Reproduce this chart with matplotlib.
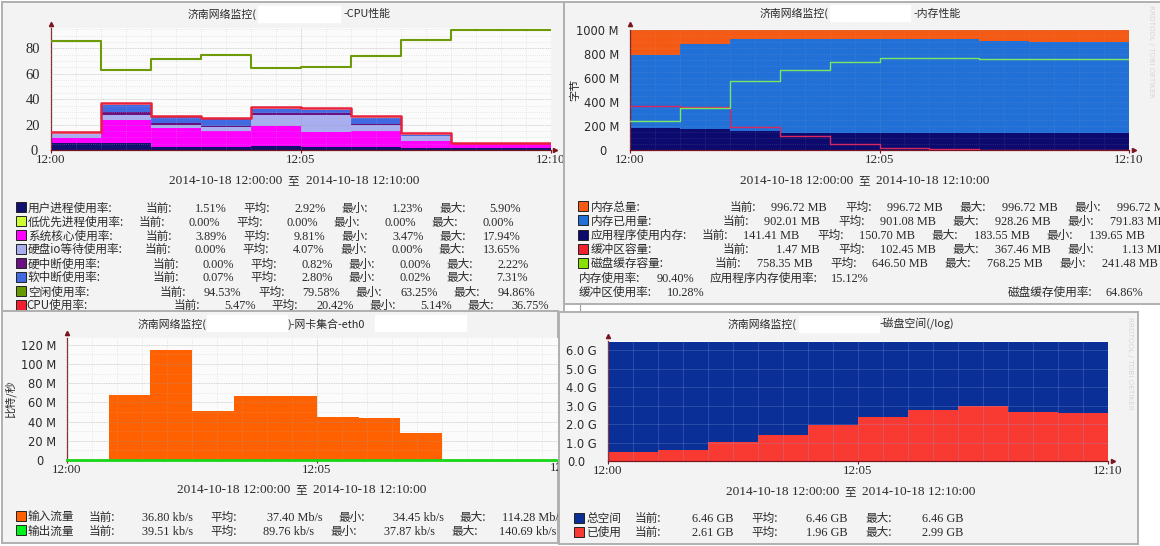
import numpy as np
import matplotlib
matplotlib.use("Agg")
import matplotlib.pyplot as plt
from matplotlib.patches import Rectangle
from matplotlib.lines import Line2D
from matplotlib.transforms import ScaledTranslation

W, H = 1160, 546
CJK = ['Noto Sans CJK SC', 'DejaVu Sans']
SERIF = 'Liberation Serif'
TXT = '#2a2a2a'
CJK_SIZE = 8.4
TITLE_SIZE = 7.8
VALUE_SIZE = 8.8
AXIS_RED = '#7a1520'

# ---------- data: CPU ----------
cpu_user = [5.2, 5.90, 2.0, 2.0, 3.0, 2.5, 2.2, 1.3, 1.25, 1.51]
cpu_nice = [0, 0, 0, 0, 0, 0, 0, 0, 0, 0]
cpu_sys = [4.0, 17.94, 15.0, 13.0, 16.0, 11.5, 12.8, 5.7, 3.47, 3.89]
cpu_io = [3.0, 3.5, 3.0, 3.0, 8.5, 13.65, 4.7, 4.3, 0, 0]
cpu_irq = [0, 2.22, 1.3, 1.2, 1.8, 1.4, 0.8, 0, 0, 0]
cpu_soft = [0.3, 6.0, 4.7, 5.0, 2.8, 2.1, 4.5, 0.5, 0.2, 0.07]
cpu_idle = [85.4, 63.25, 72.0, 74.4, 64.6, 65.6, 73.6, 86.2, 94.2, 94.53]
cpu_total = [14.5, 36.75, 27.0, 25.5, 34.0, 33.0, 26.5, 13.5, 5.9, 5.47]
cpu_names = ['用户进程使用率:', '低优先进程使用率:', '系统核心使用率:', '硬盘io等待使用率:',
             '硬中断使用率:', '软中断使用率:', '空闲使用率:', 'CPU使用率:']
cpu_colors = ['#10106e', '#ccff33', '#ff00ff', '#a8aef0', '#6b1080', '#4169e1', '#669900', '#f0202e']
cpu_cur = ['1.51%', '0.00%', '3.89%', '0.00%', '0.00%', '0.07%', '94.53%', '5.47%']
cpu_avg = ['2.92%', '0.00%', '9.81%', '4.07%', '0.82%', '2.80%', '79.58%', '20.42%']
cpu_min = ['1.23%', '0.00%', '3.47%', '0.00%', '0.00%', '0.02%', '63.25%', '5.14%']
cpu_max = ['5.90%', '0.00%', '17.94%', '13.65%', '2.22%', '7.31%', '94.86%', '36.75%']

# ---------- data: memory ----------
mem_total = [996.72] * 10
mem_used = [791.83, 883, 928.26, 925, 925, 925, 925, 908, 900, 902.01]
mem_app = [183.55, 175, 155, 141, 140, 140, 140, 140, 140, 141.41]
mem_buffer = [367.46, 361, 194, 117, 47, 14, 12, 2, 1.13, 1.47]
mem_cache = [241.48, 347, 575, 665, 730, 764, 768.25, 760, 758, 758.35]
mem_names = ['内存总量:', '内存已用量:', '应用程序使用内存:', '缓冲区容量:', '磁盘缓存容量:']
mem_colors = ['#f55a14', '#2070d8', '#0c0a6e', '#f0202e', '#88e000']
mem_cur = ['996.72 MB', '902.01 MB', '141.41 MB', '1.47 MB', '758.35 MB']
mem_avg = ['996.72 MB', '901.08 MB', '150.70 MB', '102.45 MB', '646.50 MB']
mem_max = ['996.72 MB', '928.26 MB', '183.55 MB', '367.46 MB', '768.25 MB']
mem_min = ['996.72 MB', '791.83 MB', '139.65 MB', '1.13 MB', '241.48 MB']

# ---------- data: network ----------
net_in = [0.04, 68, 114.28, 51, 66.5, 66.5, 45, 44, 28.5, 0.04, 0.04, 0.04]
net_out = [0.14] * 12
net_names = ['输入流量', '输出流量']
net_colors = ['#ff6000', '#00f020']
net_cur = ['36.80 kb/s', '39.51 kb/s']
net_avg = ['37.40 Mb/s', '89.76 kb/s']
net_min = ['34.45 kb/s', '37.87 kb/s']
net_max = ['114.28 Mb/s', '140.69 kb/s']

# ---------- data: disk ----------
disk_total = [6.46] * 10
disk_used = [0.50, 0.60, 1.03, 1.40, 1.95, 2.38, 2.76, 2.99, 2.65, 2.61]
disk_names = ['总空间', '已使用']
disk_colors = ['#0a2f96', '#f83a32']
disk_cur = ['6.46 GB', '2.61 GB']
disk_avg = ['6.46 GB', '1.96 GB']
disk_max = ['6.46 GB', '2.99 GB']

time_labels = ['12:00', '12:05', '12:10']
time_ticks = [0, 5, 10]
date_from = '2014-10-18 12:00:00'
date_to = '2014-10-18 12:10:00'
watermark = 'RRDTOOL / TOBI OETIKER'

fig = plt.figure(figsize=(W / 100, H / 100), dpi=100, facecolor='white')
z = [0]


def next_z():
    z[0] += 1
    return z[0]


def box(l, t, r, b):
    return [l / W, 1 - b / H, (r - l) / W, (b - t) / H]


def steps(vals, span=10.0):
    v = np.asarray(vals, float)
    return np.linspace(0, span, len(v) + 1), np.append(v, v[-1])


def panel(l, t, r, b):
    ax = fig.add_axes(box(l, t, r, b), zorder=next_z())
    ax.set_xlim(l, r)
    ax.set_ylim(b, t)
    ax.set_facecolor('#f3f3f3')
    ax.set_xticks([])
    ax.set_yticks([])
    for s in ax.spines.values():
        s.set_color('#b0b0b0')
        s.set_linewidth(1.4)
    return ax


def cjk(ax, x, y, s, ha='left', size=CJK_SIZE):
    ax.text(x, y + 4, s, family=CJK, fontsize=size, color=TXT, ha=ha, va='baseline', clip_on=True)


def val(ax, x, y, s, ha='right', size=VALUE_SIZE):
    ax.text(x, y + 4, s, family=SERIF, fontsize=size, color=TXT, ha=ha, va='baseline', clip_on=True)


def date_line(ax, cx, y):
    val(ax, cx - 11, y, date_from, size=9.6)
    cjk(ax, cx, y, '至', ha='center')
    val(ax, cx + 12, y, date_to, ha='left', size=9.6)


def title(ax, x1, s1, mask, x2, s2, y, mask2=None):
    cjk(ax, x1, y, s1, size=TITLE_SIZE)
    ax.add_patch(Rectangle((mask[0], y - 8), mask[1] - mask[0], 16, color='white', zorder=3))
    if mask2:
        ax.add_patch(Rectangle((mask2[0], y - 8), mask2[1] - mask2[0], 16, color='white', zorder=3))
    cjk(ax, x2, y, s2, size=TITLE_SIZE)


def swatch(ax, x, y, color):
    ax.add_patch(Rectangle((x, y - 5.5), 10, 10, facecolor=color, edgecolor='#222222', linewidth=0.7))


def chart(container, l, t, r, b, xlim, ylim, yticks, ylabels, yminor, xminor=0.5, grid_alpha=0.55,
          yfont='DejaVu Sans', yfontsize=8.3, right_arrow_px=6, top_arrow_px=5, xticks=time_ticks,
          xlabels=time_labels, zero_shift=12):
    ax = fig.add_axes(box(l, t, r, b), zorder=next_z())
    ax.set_facecolor('#fbfbfb')
    ax.set_xlim(*xlim)
    ax.set_ylim(*ylim)
    ax.set_xticks(xticks)
    ax.set_xticklabels(xlabels)
    ax.set_yticks(yticks)
    ax.set_yticklabels(ylabels)
    ax.set_xticks(np.arange(0, xlim[1] + 1e-6, xminor), minor=True)
    ax.set_yticks(np.arange(0, ylim[1] + 1e-6, yminor), minor=True)
    ax.set_axisbelow(False)
    ax.grid(True, which='major', color='#9a9a9a', lw=0.6, ls=(0, (1, 1)), alpha=grid_alpha, zorder=6)
    ax.grid(True, which='minor', color='#b8b8b8', lw=0.5, ls=(0, (1, 2)), alpha=grid_alpha, zorder=6)
    ax.tick_params(which='both', length=0)
    ax.tick_params(axis='x', which='major', length=2, color=AXIS_RED, pad=1)
    ax.tick_params(axis='y', which='major', pad=8)
    for s in ['top', 'right']:
        ax.spines[s].set_visible(False)
    for s in ['left', 'bottom']:
        ax.spines[s].set_color(AXIS_RED)
        ax.spines[s].set_linewidth(0.9)
    for lab in ax.get_xticklabels():
        lab.set_family(SERIF)
        lab.set_fontsize(9.4)
        lab.set_color(TXT)
        lab.set_clip_on(True)
        lab.set_clip_box(container.bbox)
    for k, lab in enumerate(ax.get_yticklabels()):
        lab.set_family(yfont)
        lab.set_fontsize(yfontsize)
        lab.set_color(TXT)
        if k == 0 and zero_shift:
            lab.set_transform(lab.get_transform() + ScaledTranslation(-zero_shift / 100, 0, fig.dpi_scale_trans))
    ax.plot([0], [1 + top_arrow_px / (b - t)], marker='^', ms=3, color=AXIS_RED, transform=ax.transAxes,
            clip_on=False, zorder=8)
    ax.plot([1 + right_arrow_px / (r - l)], [0], marker='>', ms=3, color=AXIS_RED, transform=ax.transAxes,
            clip_on=False, zorder=8)
    return ax


# ---------- CPU panel ----------
p1 = panel(2, 2, 564, 314)
title(p1, 188, '济南网络监控(', (258, 340), 343, '-CPU性能', 13.5)
a1 = chart(p1, 51, 28, 551, 150, (0, 10), (0, 96), [0, 20, 40, 60, 80], ['0', '20', '40', '60', '80'], 5,
           yfont=SERIF, yfontsize=10.5, right_arrow_px=4, top_arrow_px=4, zero_shift=2)
xs, _ = steps(cpu_user)
base = np.zeros(len(xs))
for vals, col in zip([cpu_user, cpu_nice, cpu_sys, cpu_io, cpu_irq, cpu_soft], cpu_colors[:6]):
    top = base + steps(vals)[1]
    a1.fill_between(xs, base, top, step='post', color=col, lw=0, zorder=2)
    base = top
a1.step(*steps(cpu_total), where='post', color='#e8203a', lw=1.8, zorder=4)
a1.step(*steps(cpu_idle), where='post', color='#6f9a08', lw=1.5, zorder=4)
date_line(p1, 293.5, 180)
cpu_y = [207.7, 221.7, 235.7, 249, 263.7, 277.3, 291.7, 305]
cpu_x = [145.5, 138.2, 145.5, 144.8, 152.7, 152.7, 160, 173.8]
for i, name in enumerate(cpu_names):
    y, x0 = cpu_y[i], cpu_x[i]
    swatch(p1, 15.5, y, cpu_colors[i])
    cjk(p1, 28 if i < 7 else 26, y, name)
    cjk(p1, x0, y, '当前:')
    val(p1, x0 + 81.5, y, cpu_cur[i])
    cjk(p1, x0 + 98, y, '平均:')
    val(p1, x0 + 180, y, cpu_avg[i])
    cjk(p1, x0 + 195.5, y, '最小:')
    val(p1, x0 + 278, y, cpu_min[i])
    cjk(p1, x0 + 293.5, y, '最大:')
    val(p1, x0 + 375.5, y, cpu_max[i])

# ---------- memory panel ----------
p2 = panel(564, 2, 1162, 304)
title(p2, 760, '济南网络监控(', (830, 910), 914, '-内存性能', 13)
a2 = chart(p2, 630, 30, 1129, 150, (0, 10), (0, 1000), [0, 200, 400, 600, 800, 1000],
           ['0', '200 M', '400 M', '600 M', '800 M', '1000 M'], 50, grid_alpha=0.3, right_arrow_px=5, top_arrow_px=6)
a2.fill_between(*steps(mem_total), step='post', color=mem_colors[0], lw=0, zorder=2)
a2.fill_between(*steps(mem_used), step='post', color=mem_colors[1], lw=0, zorder=2.1)
a2.fill_between(*steps(mem_app), step='post', color=mem_colors[2], lw=0, zorder=2.2)
a2.step(*steps(mem_buffer), where='post', color='#d8285e', lw=1.0, zorder=4)
a2.step(*steps(mem_cache), where='post', color='#7ce860', lw=1.0, zorder=4)
a2.set_ylabel('字节', family=CJK, fontsize=8.0, color=TXT, labelpad=-3)
date_line(p2, 864, 180)
mem_rows = [206.7, 220.7, 235, 249, 263.3]
mem_x = [729.5, 722.6, 701.6, 722.6, 715]
for i, name in enumerate(mem_names):
    y, x0 = mem_rows[i], mem_x[i]
    swatch(p2, 578, y, mem_colors[i])
    cjk(p2, 591, y, name)
    cjk(p2, x0, y, '当前:')
    val(p2, x0 + 97.5, y, mem_cur[i])
    cjk(p2, x0 + 115.5, y, '平均:')
    val(p2, x0 + 213, y, mem_avg[i])
    cjk(p2, x0 + 229.5, y, '最大:')
    val(p2, x0 + 328, y, mem_max[i])
    cjk(p2, x0 + 344.5, y, '最小:')
    val(p2, x0 + 443, y, mem_min[i])
cjk(p2, 579, 278.3, '内存使用率:')
val(p2, 694, 278.3, '90.40%')
cjk(p2, 710, 278.3, '应用程序内存使用率:')
val(p2, 869, 278.3, '15.12%')
cjk(p2, 579, 292.3, '缓冲区使用率:')
val(p2, 705, 292.3, '10.28%')
cjk(p2, 1008, 292.3, '磁盘缓存使用率:')
val(p2, 1143.6, 292.3, '64.86%')
p2.text(1151, 5, watermark, rotation=270, family='DejaVu Sans', fontsize=5.2, color='#d6d6d6', ha='center', va='top')

# ---------- network panel ----------
p3 = panel(2, 311, 558, 543)
title(p3, 137.5, '济南网络监控(', (207, 287), 288, ')-网卡集合-eth0', 323.5, mask2=(374.5, 465.5))
span3 = 491 / 50
a3 = chart(p3, 67, 338, 558, 460, (0, span3), (0, 127), [0, 20, 40, 60, 80, 100, 120],
           ['0', '20 M', '40 M', '60 M', '80 M', '100 M', '120 M'], 10,
           xticks=time_ticks[:2], xlabels=time_labels[:2], top_arrow_px=5, right_arrow_px=0)
a3.lines[-1].set_visible(False)
a3.fill_between(*steps(net_in), step='post', color='#ff6000', lw=0, zorder=2)
a3.step(*steps(net_out), where='post', color='#18d818', lw=2.0, zorder=4, clip_on=False)
a3.set_ylabel('比特/秒', family=CJK, fontsize=8.0, color=TXT, labelpad=3)
p3.text(565, 468.5, time_labels[2], family=SERIF, fontsize=9.4, color=TXT, ha='center', va='center', clip_on=True)
date_line(p3, 301, 489)
net_rows = [517, 531]
net_offs = [[89, 193.5, 210, 322.5, 338, 443.6, 459, 563], [89, 193.5, 210, 314.5, 330, 435, 451, 556]]
for i, name in enumerate(net_names):
    y = net_rows[i]
    o = net_offs[i]
    swatch(p3, 15.5, y, net_colors[i])
    cjk(p3, 28, y, name)
    cjk(p3, o[0], y, '当前:')
    val(p3, o[1], y, net_cur[i])
    cjk(p3, o[2], y, '平均:')
    val(p3, o[3], y, net_avg[i])
    cjk(p3, o[4], y, '最小:')
    val(p3, o[5], y, net_min[i])
    cjk(p3, o[6], y, '最大:')
    val(p3, o[7], y, net_max[i])

# ---------- disk panel ----------
p4 = panel(559, 312, 1138, 544)
title(p4, 728, '济南网络监控(', (799, 879), 880, '-磁盘空间(/log)', 324)
a4 = chart(p4, 608, 341, 1108, 461, (0, 10), (0, 6.49), [0, 1, 2, 3, 4, 5, 6],
           ['0.0', '1.0 G', '2.0 G', '3.0 G', '4.0 G', '5.0 G', '6.0 G'], 0.5, grid_alpha=0.45,
           right_arrow_px=5, top_arrow_px=5)
a4.fill_between(*steps(disk_total), step='post', color=disk_colors[0], lw=0, zorder=2)
a4.fill_between(*steps(disk_used), step='post', color=disk_colors[1], lw=0, zorder=2.1)
a4.grid(False, which='minor', axis='y')
a4.grid(True, which='major', color='#8ea4e0', lw=0.5, ls='-', alpha=0.35, zorder=6)
a4.grid(True, which='minor', axis='x', color='#8ea4e0', lw=0.5, ls='-', alpha=0.35, zorder=6)
date_line(p4, 850.5, 491)
disk_rows = [518, 532]
for i, name in enumerate(disk_names):
    y = disk_rows[i]
    swatch(p4, 573.5, y, disk_colors[i])
    cjk(p4, 586.6, y, name)
    cjk(p4, 635, y, '当前:')
    val(p4, 733, y, disk_cur[i])
    cjk(p4, 751, y, '平均:')
    val(p4, 848, y, disk_avg[i])
    cjk(p4, 865, y, '最大:')
    val(p4, 963, y, disk_max[i])
p4.text(1130, 317, watermark, rotation=270, family='DejaVu Sans', fontsize=5.2, color='#d6d6d6', ha='center', va='top')

# stub of the window frame between the upper and lower panels
fig.add_artist(Line2D([580 / W, 580 / W], [1 - 304 / H, 1 - 311 / H], color='#a0a0a0', lw=0.8))

fig.savefig('out.png', dpi=100, facecolor='white')
